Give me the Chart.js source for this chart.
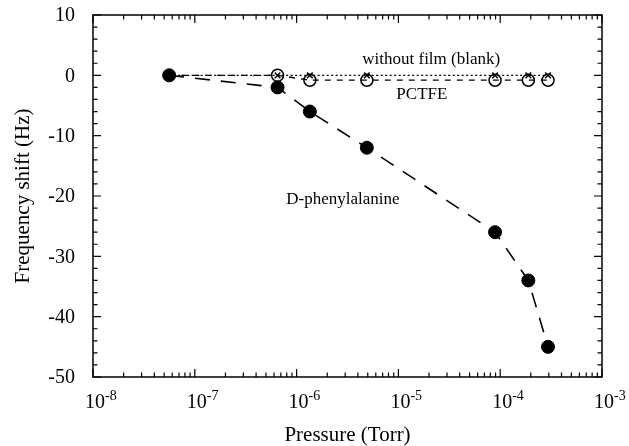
<!DOCTYPE html>
<html>
<head>
<meta charset="utf-8">
<script src="https://cdn.jsdelivr.net/npm/chart.js@4.4.1/dist/chart.umd.min.js"></script>
<style>
  html, body { margin: 0; padding: 0; background: #fff; }
  #wrap { width: 629px; height: 446px; }
</style>
</head>
<body>
<div id="wrap"><canvas id="c" width="629" height="446"></canvas></div>
<script>
// Measured frequency shift versus chamber pressure
const pressureTorr = [5.6e-8, 6.5e-7, 1.35e-6, 4.9e-6, 8.9e-5, 1.89e-4, 2.95e-4];
const shiftDPhe    = [0, -2, -6, -12, -26, -34, -45];
const shiftPCTFE   = [0, 0, -0.8, -0.8, -0.8, -0.8, -0.8];
const shiftBlank   = [0, 0, 0, 0, 0, 0, 0];

// Axis ticks
const xDecades    = [-8, -7, -6, -5, -4, -3];
const yTickValues = [10, 0, -10, -20, -30, -40, -50];

const seriesNames = ['D-phenylalanine', 'PCTFE', 'without film (blank)'];

// Where each series name sits, in data coordinates
const notes = [
  { text: seriesNames[2], x: 2.1e-5, y: 2.6 },
  { text: seriesNames[1], x: 1.7e-5, y: -3.2 },
  { text: seriesNames[0], x: 2.85e-6, y: -20.6 }
];

const SERIF = '"Liberation Serif", "Times New Roman", serif';

function pts(ys) {
  return pressureTorr.map((p, i) => ({ x: p, y: ys[i] }));
}

// Frame, inward tick marks, tick labels and series notes
const framePlugin = {
  id: 'frame',
  afterDraw(chart) {
    const ctx = chart.ctx;
    const { left, right, top, bottom } = chart.chartArea;
    const xs = chart.scales.x, ys = chart.scales.y;
    ctx.save();
    ctx.strokeStyle = '#000';
    ctx.lineWidth = 1.5;
    ctx.strokeRect(left, top, right - left, bottom - top);

    ctx.lineWidth = 1.2;
    ctx.beginPath();
    // x ticks: decades (major) and 2..9 (minor), top and bottom edges
    xDecades.forEach((e, i) => {
      const base = Math.pow(10, e);
      const px = xs.getPixelForValue(base);
      ctx.moveTo(px, bottom); ctx.lineTo(px, bottom - 8);
      ctx.moveTo(px, top); ctx.lineTo(px, top + 8);
      if (i < xDecades.length - 1) {
        for (let m = 2; m <= 9; m++) {
          const mx = xs.getPixelForValue(m * base);
          ctx.moveTo(mx, bottom); ctx.lineTo(mx, bottom - 4.5);
          ctx.moveTo(mx, top); ctx.lineTo(mx, top + 4.5);
        }
      }
    });
    // y ticks: every 10 (major), every 2 (minor), left and right edges
    const yMin = Math.min(...yTickValues), yMax = Math.max(...yTickValues);
    for (let v = yMin; v <= yMax; v += 2) {
      const py = ys.getPixelForValue(v);
      const len = (v % 10 === 0) ? 8 : 4.5;
      ctx.moveTo(left, py); ctx.lineTo(left + len, py);
      ctx.moveTo(right, py); ctx.lineTo(right - len, py);
    }
    ctx.stroke();

    ctx.fillStyle = '#000';

    // y tick labels
    ctx.font = '20px ' + SERIF;
    ctx.textAlign = 'right';
    ctx.textBaseline = 'middle';
    yTickValues.forEach(v => {
      ctx.fillText(String(v), left - 18, ys.getPixelForValue(v) + 1);
    });

    // x tick labels as 10 with a raised exponent
    ctx.textBaseline = 'alphabetic';
    ctx.textAlign = 'left';
    xDecades.forEach(e => {
      const px = xs.getPixelForValue(Math.pow(10, e));
      ctx.font = '20px ' + SERIF;
      const w = ctx.measureText('10').width;
      const bx = px + 2 - w / 2;
      ctx.fillText('10', bx, 408);
      ctx.font = '14px ' + SERIF;
      ctx.fillText(String(e), bx + w, 400);
    });

    // series names
    ctx.font = '17px ' + SERIF;
    ctx.textAlign = 'center';
    ctx.textBaseline = 'middle';
    notes.forEach(n => {
      ctx.fillText(n.text, xs.getPixelForValue(n.x), ys.getPixelForValue(n.y));
    });
    ctx.restore();
  }
};

new Chart(document.getElementById('c'), {
  type: 'line',
  data: {
    datasets: [
      {
        label: seriesNames[0],
        data: pts(shiftDPhe),
        borderColor: '#000',
        borderWidth: 1.6,
        borderDash: [15, 11],
        pointStyle: 'circle',
        pointRadius: 6.5,
        pointBorderWidth: 1,
        pointBackgroundColor: '#000',
        pointBorderColor: '#000',
        tension: 0
      },
      {
        label: seriesNames[1],
        data: pts(shiftPCTFE),
        borderColor: '#000',
        borderWidth: 1.4,
        borderDash: [6, 6],
        pointStyle: 'circle',
        pointRadius: [0, 6, 6, 6, 6, 6, 6],
        pointBorderWidth: 1.5,
        pointBackgroundColor: 'rgba(255,255,255,0)',
        pointBorderColor: '#000',
        tension: 0
      },
      {
        label: seriesNames[2],
        data: pts(shiftBlank),
        borderColor: '#000',
        borderWidth: 1.3,
        borderDash: [2, 2.5],
        pointStyle: 'crossRot',
        pointRadius: [0, 4, 4, 4, 4, 4, 4],
        pointBorderWidth: 1.5,
        pointBorderColor: '#000',
        tension: 0
      }
    ]
  },
  options: {
    responsive: false,
    devicePixelRatio: 1,
    animation: false,
    events: [],
    layout: { autoPadding: false, padding: { top: 15, right: 27, left: 0, bottom: 0 } },
    plugins: { legend: { display: false }, tooltip: { enabled: false } },
    scales: {
      x: {
        type: 'logarithmic',
        min: 1e-8,
        max: 1e-3,
        grid: { display: false, drawTicks: false },
        border: { display: false },
        ticks: { display: false },
        title: {
          display: true,
          text: 'Pressure (Torr)',
          color: '#000',
          font: { family: SERIF, size: 21, lineHeight: 1 },
          padding: { top: 0, bottom: 0 }
        },
        afterFit(scale) { scale.height = 69; }
      },
      y: {
        min: -50,
        max: 10,
        grid: { display: false, drawTicks: false },
        border: { display: false },
        ticks: { display: false },
        title: {
          display: true,
          text: 'Frequency shift (Hz)',
          color: '#000',
          font: { family: SERIF, size: 21, lineHeight: 1 },
          padding: { top: 12.5, bottom: 0 }
        },
        afterFit(scale) { scale.width = 93; }
      }
    }
  },
  plugins: [framePlugin]
});
</script>
</body>
</html>
